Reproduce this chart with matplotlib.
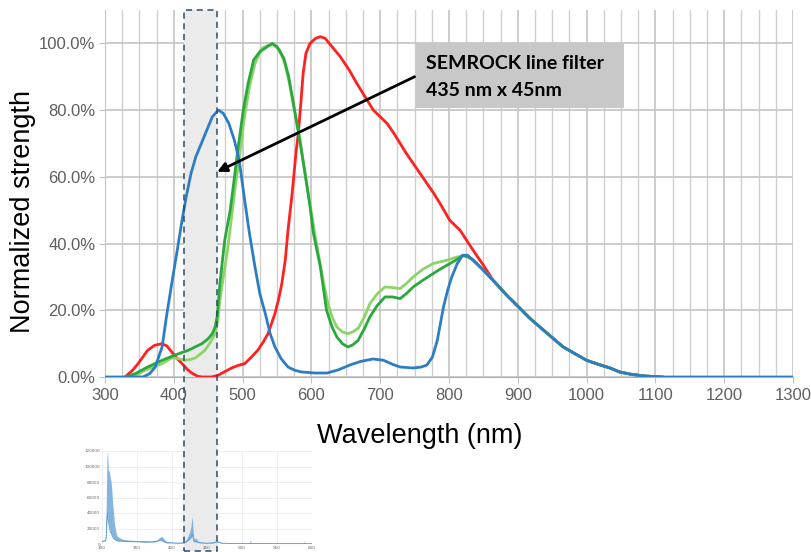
import matplotlib
matplotlib.use('Agg')
import matplotlib.pyplot as plt
import matplotlib.transforms as mtransforms
from matplotlib.patches import Rectangle
from matplotlib.ticker import MultipleLocator, FuncFormatter

# ---- data (nm, % of max) ----
tail_nm = [884, 903, 918, 932, 950, 966, 983, 1000, 1017, 1034, 1048, 1065, 1084, 1110]
tail_val = [24.5, 20.6, 17.5, 15, 11.8, 9, 7, 5, 3.8, 2.7, 1.5, 0.8, 0.3, 0]

blue_nm = [300, 355, 365, 373, 383, 390, 397, 405, 412, 418, 425, 432, 440, 448, 456, 465, 472, 480,
           488, 495, 503, 510, 518, 525, 533, 540, 547, 556, 566, 576, 586, 605, 623, 640, 656,
           672, 690, 705, 718, 729, 748, 760, 768, 776, 783, 792, 798, 804, 812, 820, 827, 835,
           850, 864] + tail_nm + [1300]
blue_val = [0, 0, 1, 3, 9, 19, 28, 38, 47, 54, 61, 66, 70, 74, 78, 80, 79, 76,
            71, 65, 53, 43, 33, 25, 19, 13, 9, 5.5, 3, 2, 1.5, 1.2, 1.2, 2.2, 3.6,
            4.7, 5.4, 5, 3.8, 3, 2.7, 3, 3.6, 6, 11, 21, 26, 30, 34, 36.5, 36.5, 35,
            32, 29] + tail_val + [0]

red_nm = [329, 340, 348, 355, 362, 372, 383, 390, 395, 403, 412, 420, 426, 435, 441, 455, 464, 474,
          484, 494, 503, 512, 522, 530, 537, 542, 547, 552, 557, 562, 566, 572, 578, 581, 585, 588,
          592, 598, 606, 613, 620, 628, 642, 655, 666, 678, 690, 700, 710, 720, 729, 738, 748, 758,
          768, 778, 787, 794, 801, 816, 835, 850, 864] + tail_nm
red_val = [0, 2, 4, 6, 8, 9.5, 10, 9.3, 8, 6, 4, 2.2, 1.2, 0.2, 0, 0, 0.5, 1.6,
           2.7, 3.5, 4, 5.8, 8, 10.5, 13, 16, 19, 23, 28, 35, 44, 55, 68, 73, 83, 91,
           97, 100, 101.5, 102, 101.5, 99.5, 96, 92, 88, 84, 80, 78, 76, 73, 70, 67, 64, 61,
           58, 55, 52, 49.5, 47, 44, 38, 33.5, 29] + tail_val

green_nm = [330, 344, 362, 383, 402, 421, 441, 450, 456, 460, 463, 467, 474, 482, 487, 493, 501, 508,
            516, 525, 536, 543, 550, 560, 567, 573, 578, 583, 590, 598, 603, 608, 613, 622, 630, 637,
            645, 653, 660, 668, 677, 685, 696, 707, 718, 729, 738, 748, 762, 777, 787, 797, 810, 820,
            828, 836, 850, 864] + tail_nm
green_val = [0, 1, 3, 5, 6.6, 8, 10, 11.5, 13, 15, 18, 28, 41, 50, 58, 68, 80, 88,
             95, 97.5, 99, 100, 99, 95.5, 90, 83, 77, 71, 62, 51, 43, 38, 33, 20, 15, 12,
             10, 9, 9.6, 11, 14.5, 18, 21.5, 24, 24, 23.5, 25, 27, 29, 31, 32.3, 33.5, 35, 36.5,
             36, 35, 32, 29] + tail_val

lgreen_nm = [340, 358, 370, 383, 397, 405, 416, 425, 431, 438, 445, 452, 460, 464, 467, 472, 478, 484,
             490, 496, 502, 510, 518, 528, 538, 545, 554, 562, 568, 573, 578, 583, 590, 598, 604, 610,
             617, 624, 630, 637, 645, 653, 660, 668, 677, 685, 696, 707, 718, 729, 738, 748, 762, 777,
             797, 812, 822, 832, 845, 864] + tail_nm
lgreen_val = [0, 2, 3, 4, 5.7, 5.6, 5, 5.3, 5.7, 6.8, 8, 10, 13, 17, 23, 30, 38, 48,
              58, 67, 77, 87, 94, 98.5, 99.5, 99.5, 98, 93.5, 88, 82.5, 77, 72, 62, 52, 44, 37,
              29, 22, 18, 15, 13.5, 13, 13.5, 14.6, 18, 22, 25, 27, 26.8, 26.5, 28, 30, 32.3, 34,
              35, 36, 36.3, 35.5, 33, 29] + tail_val

# inset: raw spectrum envelope (nm, counts)
raw_nm = [300, 303, 305, 306, 307, 308, 309, 310, 311, 312, 313, 314, 315, 316, 317, 318, 320, 322,
          325, 330, 340, 350, 360, 370, 378, 382, 385, 388, 392, 400, 410, 418, 422, 425, 427, 428,
          429, 430, 431, 432, 434, 437, 440, 450, 460, 463, 466, 470, 480, 500, 511, 512, 513, 530,
          550, 570, 588, 589, 590, 600]
raw_hi = [4000, 5000, 6000, 50000, 110000, 120000, 95000, 95000, 90000, 85000, 80000, 70000, 55000,
          45000, 35000, 25000, 15000, 10000, 8000, 6000, 5000, 4500, 4500, 4000, 5000, 8000, 10000,
          7000, 3000, 2500, 2000, 3000, 8000, 15000, 22000, 30000, 35000, 20000, 10000, 6000, 8000,
          4000, 2500, 2000, 3000, 5000, 4000, 2000, 1500, 1500, 1500, 6000, 1500, 1200, 1000, 1000,
          1000, 4000, 1000, 800]
raw_lo = [3000, 4000, 4000, 10000, 30000, 40000, 30000, 25000, 20000, 15000, 15000, 12000, 10000,
          8000, 7000, 6000, 5000, 4000, 4000, 3500, 3000, 3000, 2500, 2500, 3000, 5000, 5000, 3000,
          1500, 1500, 1000, 1500, 4000, 6000, 8000, 10000, 12000, 8000, 4000, 3000, 3000, 2000, 1500,
          1000, 1500, 2500, 2500, 1200, 800, 800, 800, 800, 800, 700, 600, 600, 600, 600, 600, 500]

band_lo, band_hi = 415, 463  # filter band (nm)

W, H = 812, 552
fig = plt.figure(figsize=(W / 100, H / 100), dpi=100)

# main axes
ax = fig.add_axes([105 / W, 1 - 377 / H, 688 / W, 367 / H])
ax.set_facecolor('none')
ax.set_xlim(300, 1300)
ax.set_ylim(0, 110)
ax.xaxis.set_major_locator(MultipleLocator(100))
ax.xaxis.set_minor_locator(MultipleLocator(25))
ax.set_yticks([0, 20, 40, 60, 80, 100])
ax.yaxis.set_major_formatter(FuncFormatter(lambda v, p: '%.1f%%' % v))
ax.set_axisbelow(True)
ax.grid(True, which='major', axis='both', color='#c4c4c4', lw=1.2)
ax.grid(True, which='minor', axis='x', color='#cfcfcf', lw=1.0)
for s in ['top', 'right']:
    ax.spines[s].set_visible(False)
ax.spines['left'].set_color('#c4c4c4')
ax.spines['bottom'].set_color('#b0b0b0')
ax.tick_params(axis='both', which='major', colors='#c4c4c4', labelcolor='#5f5f5f',
               labelsize=12, length=4)
ax.tick_params(axis='x', which='minor', length=0)
ax.tick_params(axis='x', pad=4)
ax.tick_params(axis='y', pad=3)
for lbl in ax.get_xticklabels() + ax.get_yticklabels():
    lbl.set_family('Liberation Sans')

ax.axvspan(band_lo, band_hi, color='#ebebeb', lw=0, zorder=1)

ax.plot(red_nm, red_val, color='#ff2020', lw=2, zorder=3)
ax.plot(lgreen_nm, lgreen_val, color='#8dd468', lw=2, zorder=3)
ax.plot(green_nm, green_val, color='#2aa83e', lw=2, zorder=3)
ax.plot(blue_nm, blue_val, color='#2d7dc6', lw=2, zorder=4)

ax.set_xlabel('Wavelength (nm)', fontsize=19.5, family='Liberation Sans')
ax.xaxis.set_label_coords(0.458, -0.125)
ax.set_ylabel('Normalized strength', fontsize=19.5, family='Liberation Sans')
ax.yaxis.set_label_coords(-0.100, 0.45)

# callout box with arrow
ax.add_patch(Rectangle((752, 80.5), 303, 19.5, facecolor='#c8c8c8', edgecolor='none', zorder=5))
ax.text(766, 94, 'SEMROCK line filter', fontsize=14, fontweight='bold', family='Lato',
        va='center', ha='left', zorder=6)
ax.text(766, 86, '435 nm x 45nm', fontsize=14, fontweight='bold', family='Lato',
        va='center', ha='left', zorder=6)
ax.annotate('', xy=(band_hi, 61.5), xytext=(750, 90),
            arrowprops=dict(arrowstyle='-|>', color='black', lw=2, mutation_scale=14,
                            shrinkA=0, shrinkB=0), zorder=6)

# inset raw spectrum
ins = fig.add_axes([102 / W, 1 - 544 / H, 210 / W, 93 / H])
ins.set_facecolor('none')
ins.set_xlim(300, 600)
ins.set_ylim(0, 120000)
ins.set_xticks([300, 350, 400, 450, 500, 550, 600])
ins.set_yticks([0, 20000, 40000, 60000, 80000, 100000, 120000])
ins.set_axisbelow(True)
ins.grid(True, color='#ececec', lw=0.6)
for s in ins.spines.values():
    s.set_visible(False)
ins.tick_params(labelsize=3, length=0, pad=1.5, labelcolor='#666666')
ins.axvspan(band_lo, band_hi, color='#ebebeb', lw=0, zorder=1)
ins.fill_between(raw_nm, raw_lo, raw_hi, color='#6fa8dc', alpha=0.85, lw=0, zorder=2)
ins.plot(raw_nm, raw_lo, color='#5b9bd5', lw=0.6, zorder=3)

# filter band across the figure, dashed outline on top
tr = mtransforms.blended_transform_factory(ax.transData, fig.transFigure)
y0, y1 = 1 - 551 / H, 1 - 10 / H
fig.patches.append(Rectangle((band_lo, y0), band_hi - band_lo, y1 - y0, transform=tr,
                             facecolor='#ebebeb', edgecolor='none', zorder=-1, figure=fig))
fig.add_artist(Rectangle((band_lo, y0), band_hi - band_lo, y1 - y0, transform=tr,
                         fill=False, edgecolor='#2e4a6b', lw=1.1, ls=(0, (4, 3)), zorder=10))

fig.savefig('out.png', dpi=100)
